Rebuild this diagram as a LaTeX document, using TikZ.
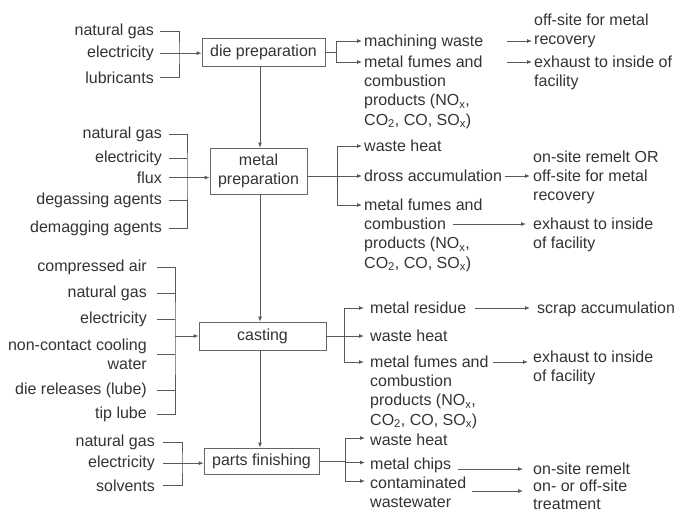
\documentclass[tikz,border=0pt]{standalone}
\usepackage{fontspec}
\setmainfont{Liberation Sans}
\usetikzlibrary{arrows.meta}

\begin{document}
\begin{tikzpicture}[x=1pt,y=-1pt,
	every node/.style={font=\fontsize{16}{19.3}\selectfont, text=black!80, inner sep=0pt},
	stage/.style={draw=black!60, line width=0.8pt, minimum height=28pt},
	inlabel/.style={anchor=north east, align=right, yshift=6.5pt},
	outlabel/.style={anchor=north west, align=left, yshift=6.5pt},
	flow/.style={draw=black!65, line width=0.8pt},
	arr/.style={flow, -{Latex[length=5pt,width=4pt]}}]
	\useasboundingbox (0,0) rectangle (684,512);
	\node[stage, minimum width=123pt] (dieprep) at (263.5,52) {die preparation};
	\node[stage, minimum width=97pt, minimum height=46pt, align=center] (metalprep) at (258.5,171) {metal\\preparation};
	\node[stage, minimum width=127pt] (casting) at (262.5,336) {casting};
	\node[stage, minimum width=115pt, minimum height=26pt] (finishing) at (261.5,461) {parts finishing};
	\coordinate (spine) at (260,0);
	\draw[arr] (dieprep.south -| spine) -- (metalprep.north -| spine);
	\draw[arr] (metalprep.south -| spine) -- (casting.north -| spine);
	\draw[arr] (casting.south -| spine) -- (finishing.north -| spine);
	% inputs
	\foreach \y/\t [count=\i] in {30/natural gas, 52/electricity, 78/lubricants}
		\node[inlabel] (dpin\i) at (154,\y) {\t};
	\coordinate (dpbr) at (179,52);
	\draw[flow] ([xshift=6pt]dpin1.east) -| (dpbr) |- ([xshift=6pt]dpin3.east);
	\draw[arr] ([xshift=6pt]dpin2.east) -- (dpin2.east -| dieprep.west);
	\foreach \y/\t [count=\i] in {133/natural gas, 157/electricity, 178/flux, 199/degassing agents, 227/demagging agents}
		\node[inlabel] (mpin\i) at (162,\y) {\t};
	\coordinate (mpbr) at (187,171);
	\draw[flow] ([xshift=7pt]mpin1.east) -| (mpbr) |- ([xshift=7pt]mpin5.east);
	\foreach \i in {2,4}
		\draw[flow] ([xshift=7pt]mpin\i.east) -- (mpin\i.east -| mpbr);
	\draw[arr] ([xshift=7pt]mpin3.east) -- (mpin3.east -| metalprep.west);
	\foreach \y/\t [count=\i] in {266/compressed air, 292/natural gas, 318/electricity, 345/non-contact cooling\\water, 389/die releases (lube), 413/tip lube}
		\node[inlabel] (csin\i) at (147,\y) {\t};
	\coordinate (csbr) at (175,336);
	\draw[flow] ([xshift=10pt]csin1.east) -| (csbr) |- ([xshift=10pt]csin6.east);
	\foreach \i in {2,...,5}
		\draw[flow] ([xshift=10pt]csin\i.east) -- (csin\i.east -| csbr);
	\draw[arr] (csbr) -- (casting.west);
	\foreach \y/\t [count=\i] in {441/natural gas, 462/electricity, 486/solvents}
		\node[inlabel] (pfin\i) at (155,\y) {\t};
	\coordinate (pfbr) at (182,462);
	\draw[flow] ([xshift=8pt]pfin1.east) -| (pfbr) |- ([xshift=8pt]pfin3.east);
	\draw[arr] ([xshift=8pt]pfin2.east) -- (pfin2.east -| finishing.west);
	% outputs of die preparation
	\node[outlabel] (dpo1) at (364,41) {machining waste};
	\node[outlabel] (dpo2) at (364,62) {metal fumes and\\combustion\\products (NO\textsubscript{x},\\CO\textsubscript{2}, CO, SO\textsubscript{x})};
	\node[outlabel] (dpt1) at (534,20) {off-site for metal\\recovery};
	\node[outlabel] (dpt2) at (534,62) {exhaust to inside of\\facility};
	\coordinate (dpout) at (336,52);
	\draw[flow] (dieprep.east) -- (dpout);
	\foreach \n in {dpo1,dpo2}
		\draw[arr] (dpout) |- ([shift={(-2pt,-6.5pt)}]\n.north west);
	\coordinate (dpa1) at (507,41);
	\coordinate (dpa2) at (507,62);
	\draw[arr, shorten >=2pt] (dpa1) -- (dpa1 -| dpt1.west);
	\draw[arr, shorten >=2pt] (dpa2) -- (dpa2 -| dpt2.west);
	% outputs of metal preparation
	\node[outlabel] (mpo1) at (364,146) {waste heat};
	\node[outlabel] (mpo2) at (364,176) {dross accumulation};
	\node[outlabel] (mpo3) at (364,205) {metal fumes and\\combustion\\products (NO\textsubscript{x},\\CO\textsubscript{2}, CO, SO\textsubscript{x})};
	\node[outlabel] (mpt1) at (533,157) {on-site remelt OR\\off-site for metal\\recovery};
	\node[outlabel] (mpt2) at (533,224) {exhaust to inside\\of facility};
	\coordinate (mpout) at (337,176);
	\draw[flow] (metalprep.east |- mpout) -- (mpout);
	\foreach \n in {mpo1,mpo2,mpo3}
		\draw[arr] (mpout) |- ([shift={(-2pt,-6.5pt)}]\n.north west);
	\coordinate (mpa1) at (505,176);
	\coordinate (mpa2) at (453,224);
	\draw[arr, shorten >=3pt] (mpa1) -- (mpa1 -| mpt1.west);
	\draw[arr, shorten >=7pt] (mpa2) -- (mpa2 -| mpt2.west);
	% outputs of casting
	\node[outlabel] (cso1) at (370,308) {metal residue};
	\node[outlabel] (cso2) at (370,336) {waste heat};
	\node[outlabel] (cso3) at (370,362) {metal fumes and\\combustion\\products (NO\textsubscript{x},\\CO\textsubscript{2}, CO, SO\textsubscript{x})};
	\node[outlabel] (cst1) at (537,308) {scrap accumulation};
	\node[outlabel] (cst2) at (533,357) {exhaust to inside\\of facility};
	\coordinate (csout) at (344,336);
	\draw[flow] (casting.east) -- (csout);
	\foreach \n in {cso1,cso2,cso3}
		\draw[arr] (csout) |- ([shift={(-6pt,-6.5pt)}]\n.north west);
	\coordinate (csa1) at (475,308);
	\coordinate (csa2) at (493,362);
	\draw[arr, shorten >=7pt] (csa1) -- (csa1 -| cst1.west);
	\draw[arr, shorten >=5pt] (csa2) -- (csa2 -| cst2.west);
	% outputs of parts finishing
	\node[outlabel] (pfo1) at (370,440) {waste heat};
	\node[outlabel] (pfo2) at (370,464) {metal chips};
	\node[outlabel, font=\fontsize{16}{19}\selectfont] (pfo3) at (370,483) {contaminated\\wastewater};
	\node[outlabel] (pft1) at (533,469) {on-site remelt};
	\node[outlabel, font=\fontsize{16}{18}\selectfont] (pft2) at (533,486) {on- or off-site\\treatment};
	\coordinate (pfout) at (345,461);
	\draw[flow] (finishing.east |- pfout) -- (pfout);
	\draw[arr] (pfout) |- ([shift={(-5pt,-4.5pt)}]pfo1.north west);
	\draw[arr] (pfout) |- ([shift={(-5pt,-5pt)}]pfo2.north west);
	\draw[arr] (pfout) |- ([shift={(-5pt,-4.5pt)}]pfo3.north west);
	\coordinate (pfa1) at (458,469);
	\coordinate (pfa2) at (472,491);
	\draw[arr, shorten >=10pt] (pfa1) -- (pfa1 -| pft1.west);
	\draw[arr, shorten >=10pt] (pfa2) -- (pfa2 -| pft2.west);
\end{tikzpicture}
\end{document}
